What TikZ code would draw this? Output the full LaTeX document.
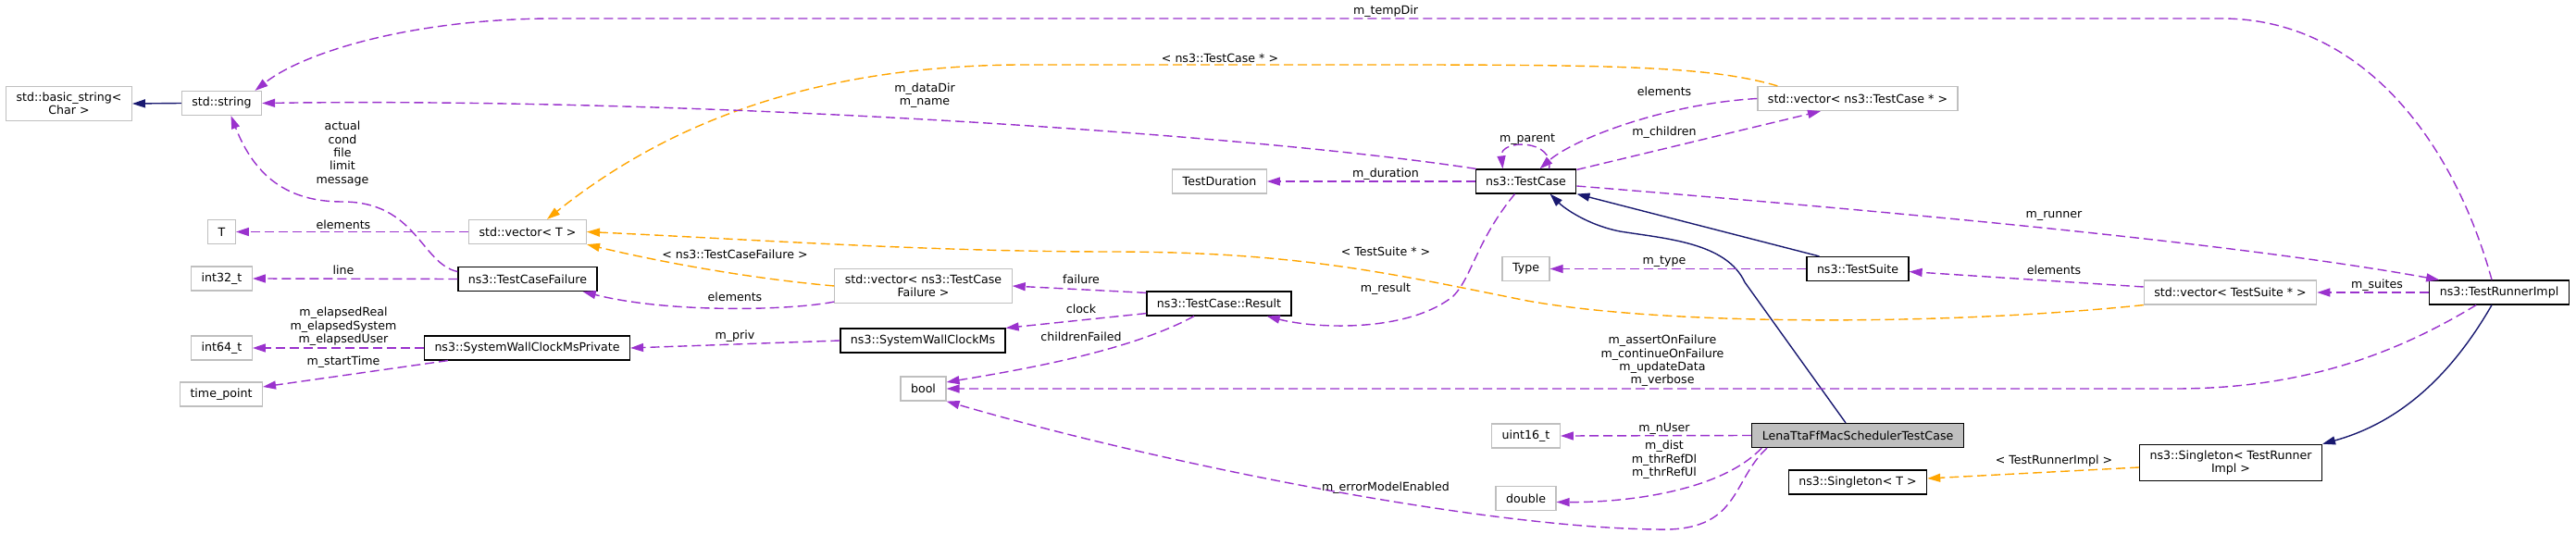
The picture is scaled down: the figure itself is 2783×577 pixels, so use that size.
\documentclass[tikz,border=0pt]{standalone}
\usepackage{fontspec}
\setmainfont{DejaVu Sans}
\usetikzlibrary{arrows.meta,calc}
\definecolor{usecol}{HTML}{9A32CD}
\definecolor{tmplcol}{HTML}{FFA500}
\definecolor{inhcol}{HTML}{191970}
\definecolor{extcol}{HTML}{BFBFBF}
\begin{document}
\begin{tikzpicture}[x=0.5pt,y=-0.5pt,
    font=\fontsize{6.3}{7.2}\selectfont,
    box/.style={draw=extcol,line width=0.6pt,inner xsep=5.5pt,inner ysep=3.2pt,minimum height=13pt,align=center},
    cls/.style={box,draw=black},
    cur/.style={cls,fill=extcol},
    lbl/.style={inner sep=0pt,align=center},
    tip/.style={-{Triangle[length=7pt,width=4.5pt]}},
    useln/.style={tip,draw=usecol,line width=0.7pt,dash pattern=on 5pt off 2.5pt},
    tmplln/.style={tip,draw=tmplcol,line width=0.7pt,dash pattern=on 5pt off 2.5pt},
    inhln/.style={tip,draw=inhcol,line width=0.7pt}]
    \useasboundingbox (0,0) rectangle (2783,577);
    % classes and types
    \node[box] (bstring)   at (74.5,112)   {std::basic\_string<\\Char >};
    \node[box] (string)    at (239.5,111.5) {std::string};
    \node[box] (T)         at (239.5,250.5) {T};
    \node[box] (int32)     at (239.5,301)  {int32\_t};
    \node[box] (int64)     at (239.5,376)  {int64\_t};
    \node[box] (tpoint)    at (239,426)    {time\_point};
    \node[box] (vecT)      at (570,250.5)  {std::vector< T >};
    \node[cls] (tcfail)    at (570,301.5)  {ns3::TestCaseFailure};
    \node[cls] (swpriv)    at (569.5,376)  {ns3::SystemWallClockMsPrivate};
    \node[box] (vecTCF)    at (997.5,309)  {std::vector< ns3::TestCase\\Failure >};
    \node[cls] (swms)      at (997,368)    {ns3::SystemWallClockMs};
    \node[box] (bool)      at (997.5,420)  {bool};
    \node[box] (tduration) at (1317.5,196) {TestDuration};
    \node[cls] (result)    at (1317,328)   {ns3::TestCase::Result};
    \node[cls] (testcase)  at (1648.5,196) {ns3::TestCase};
    \node[box] (type)      at (1648.5,290.5) {Type};
    \node[box] (uint16)    at (1648.5,471) {uint16\_t};
    \node[box] (double)    at (1648.5,538.5) {double};
    \node[box] (vecTC)     at (2007,106.5) {std::vector< ns3::TestCase * >};
    \node[cls] (testsuite) at (2007,290.5) {ns3::TestSuite};
    \node[cur] (lena)      at (2007,470.5) {LenaTtaFfMacSchedulerTestCase};
    \node[cls] (sgT)       at (2007,521)   {ns3::Singleton< T >};
    \node[box] (vecTS)     at (2409.5,316) {std::vector< TestSuite * >};
    \node[cls] (sgTRI)     at (2410,500)   {ns3::Singleton< TestRunner\\Impl >};
    \node[cls] (runner)    at (2700,316)   {ns3::TestRunnerImpl};
    % inheritance
    \draw[inhln] (string.west) -- (bstring.east);
    \draw[inhln] ($(lena.north)+(-13,0)$) -- (1885,305) .. controls (1865,262) and (1800,258) .. (1750,250) .. controls (1715,243) and (1690,225) .. ($(testcase.south)+(26,0)$);
    \draw[inhln] ($(testsuite.north west)+(14,0)$) -- (testcase.south east);
    \draw[inhln] ($(runner.south)+(-8,0)$) .. controls (2640,420) and (2580,460) .. (sgTRI.north east);
    % templates
    \draw[tmplln] ($(vecTC.north west)+(22,0)$) .. controls (1850,72) and (1750,70) .. (1500,70) -- (1100,70) .. controls (850,72) and (700,150) .. ($(vecT.north)+(21,0)$);
    \draw[tmplln] (vecTCF.west) .. controls (800,300) and (700,280) .. (vecT.south east);
    \draw[tmplln] (vecTS.south west) .. controls (2100,352) and (1800,352) .. (1650,325) .. controls (1500,295) and (1400,272) .. (1200,272) .. controls (1000,272) and (800,258) .. (vecT.east);
    \draw[tmplln] ($(sgTRI.west)+(0,5)$) -- ($(sgT.east)+(0,-4)$);
    % members
    \draw[useln] ($(runner.north)+(-8,0)$) .. controls (2650,150) and (2550,20) .. (2400,20) -- (600,20) .. controls (450,20) and (330,55) .. ($(string.north)+(36,0)$);
    \draw[useln] ($(testcase.north west)+(1,0)$) .. controls (1350,145) and (750,105) .. (string.east);
    \draw[useln] ($(tcfail.west)+(0,-8)$) .. controls (455,285) and (450,218) .. (370,218) .. controls (310,218) and (275,190) .. ($(string.south)+(10,0)$);
    \draw[useln] (vecT.west) -- (T.east);
    \draw[useln] (tcfail.west) -- (int32.east);
    \draw[useln] (swpriv.west) -- (int64.east);
    \draw[useln] ($(swpriv.south west)+(26,0)$) -- ($(tpoint.east)+(0,-8)$);
    \draw[useln] ($(vecTCF.south west)+(0,-2)$) .. controls (850,336) and (720,338) .. ($(tcfail.south east)+(-16,0)$);
    \draw[useln] (swms.west) -- (swpriv.east);
    \draw[useln] ($(result.north west)+(0,2)$) -- (vecTCF.east);
    \draw[useln] ($(result.south west)+(0,-3)$) -- (swms.north east);
    \draw[useln] ($(result.south)+(-27,0)$) .. controls (1220,380) and (1100,400) .. ($(bool.east)+(0,-7)$);
    \draw[useln] ($(runner.south west)+(51,0)$) .. controls (2600,375) and (2500,420) .. (2350,420) -- (bool.east);
    \draw[useln] ($(lena.south)+(-98,0)$) .. controls (1870,520) and (1880,575) .. (1790,572) .. controls (1600,570) and (1250,500) .. (bool.south east);
    \draw[useln] (lena.west) -- (uint16.east);
    \draw[useln] ($(lena.south west)+(11,0)$) .. controls (1860,530) and (1760,543) .. ($(double.east)+(0,4)$);
    \draw[useln] (testsuite.west) -- (type.east);
    \draw[useln] ($(vecTS.west)+(0,-6)$) -- ($(testsuite.east)+(0,3)$);
    \draw[useln] (runner.west) -- (vecTS.east);
    \draw[useln] ($(testcase.north)+(25,0)$) .. controls (1680,150) and (1620,150) .. ($(testcase.north)+(-25,0)$);
    \draw[useln] (vecTC.west) .. controls (1800,112) and (1700,150) .. ($(testcase.north)+(15,0)$);
    \draw[useln] ($(testcase.north east)+(0,1)$) -- ($(vecTC.south)+(-40,0)$);
    \draw[useln] (testcase.west) -- (tduration.east);
    \draw[useln] ($(testcase.south west)+(43,0)$) .. controls (1595,260) and (1590,300) .. (1570,320) .. controls (1520,360) and (1420,355) .. ($(result.south east)+(-27,0)$);
    \draw[useln] ($(testcase.east)+(0,5)$) .. controls (2000,225) and (2400,260) .. ($(runner.north west)+(11,0)$);
    % labels
    \node[lbl] (lTempDir)  at (1497,12)  {m\_tempDir};
    \node[lbl] (lDataDir)  at (999,103)  {m\_dataDir\\m\_name};
    \node[lbl] (lVecTC)    at (1318,63)  {< ns3::TestCase * >};
    \node[lbl] (lActual)   at (370,166)  {actual\\cond\\file\\limit\\message};
    \node[lbl] (lElemT)    at (371,243)  {elements};
    \node[lbl] (lLine)     at (371,292)  {line};
    \node[lbl] (lElapsed)  at (371,353)  {m\_elapsedReal\\m\_elapsedSystem\\m\_elapsedUser};
    \node[lbl] (lStart)    at (371,391)  {m\_startTime};
    \node[lbl] (lVecTCF)   at (794,275)  {< ns3::TestCaseFailure >};
    \node[lbl] (lElemTCF)  at (794,321)  {elements};
    \node[lbl] (lPriv)     at (794,363)  {m\_priv};
    \node[lbl] (lFailure)  at (1168,302) {failure};
    \node[lbl] (lClock)    at (1168,334) {clock};
    \node[lbl] (lChildren) at (1168,364) {childrenFailed};
    \node[lbl] (lVecTS)    at (1497,272) {< TestSuite * >};
    \node[lbl] (lResult)   at (1497,312) {m\_result};
    \node[lbl] (lErrModel) at (1497,527) {m\_errorModelEnabled};
    \node[lbl] (lParent)   at (1650,151) {m\_parent};
    \node[lbl] (lDuration) at (1497,188) {m\_duration};
    \node[lbl] (lElemTC)   at (1798,99)  {elements};
    \node[lbl] (lChildTC)  at (1798,143) {m\_children};
    \node[lbl] (lRunner)   at (2219,233) {m\_runner};
    \node[lbl] (lType)     at (1798,283) {m\_type};
    \node[lbl] (lElemTS)   at (2219,292) {elements};
    \node[lbl] (lAssert)   at (1796,390) {m\_assertOnFailure\\m\_continueOnFailure\\m\_updateData\\m\_verbose};
    \node[lbl] (lNUser)    at (1798,463) {m\_nUser};
    \node[lbl] (lDist)     at (1798,497) {m\_dist\\m\_thrRefDl\\m\_thrRefUl};
    \node[lbl] (lSgTRI)    at (2219,498) {< TestRunnerImpl >};
    \node[lbl] (lSuites)   at (2568,308) {m\_suites};
\end{tikzpicture}
\end{document}
